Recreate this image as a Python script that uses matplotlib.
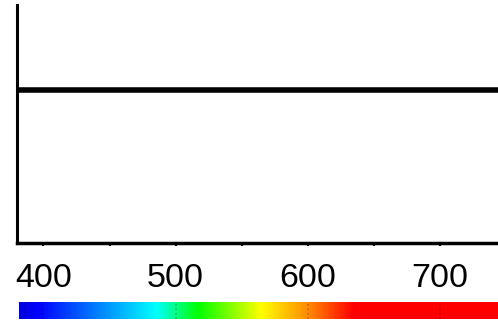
import numpy as np
import matplotlib
matplotlib.use('Agg')
from matplotlib import pyplot as plt
from matplotlib.colors import LinearSegmentedColormap

# flat spectrum with a wavelength colour strip underneath

wavelength = [380, 750]
intensity = [1.0, 1.0]
xticks = [400, 450, 500, 550, 600, 650, 700]
xticklabels = ['400', '', '500', '', '600', '', '700']

# colour anchors for the strip (nm -> rgb)
strip_nm = [380, 395, 485, 517, 565, 600, 635, 750]
strip_rgb = [(0, 0, 0.85), (0, 0, 1), (0, 1, 1), (0, 1, 0),
             (1, 1, 0), (1, 0.55, 0), (1, 0, 0), (1, 0, 0)]

plt.rcParams['font.family'] = ['Liberation Sans', 'DejaVu Sans']

fig = plt.figure(figsize=(4.98, 3.22), dpi=100)
W, H = 498, 322
x0, x1 = 17, 506
ax = fig.add_axes([x0 / W, 1 - 243 / H, (x1 - x0) / W, (243 - 5) / H])

ax.plot(wavelength, intensity, color='black', lw=4, solid_capstyle='butt')
ax.set_xlim(380, 750)
ax.set_ylim(0, 238 / 153)
ax.set_yticks([])
ax.set_xticks(xticks)
ax.set_xticklabels(xticklabels)
ax.tick_params(axis='x', length=2.5, width=1.5, pad=12, labelsize=24.5)
for s in ['top', 'right']:
    ax.spines[s].set_visible(False)
ax.spines['left'].set_linewidth(2.2)
ax.spines['bottom'].set_linewidth(2.5)

# spectrum strip
cax = fig.add_axes([(x0 + 2) / W, 1 - 319 / H, (x1 - x0 - 2) / W, 17 / H])
pos = [(n - strip_nm[0]) / (strip_nm[-1] - strip_nm[0]) for n in strip_nm]
cmap = LinearSegmentedColormap.from_list('spec', list(zip(pos, strip_rgb)))
grad = np.linspace(strip_nm[0], strip_nm[-1], 600).reshape(1, -1)
cax.imshow(grad, aspect='auto', cmap=cmap, extent=[380, 750, 0, 1])
for t in [400, 500, 600, 700]:
    cax.axvline(t, color='black', ls=':', lw=1.2, alpha=0.25)
cax.set_xlim(381.5, 750)
cax.axis('off')

fig.savefig('out.png', dpi=100)
